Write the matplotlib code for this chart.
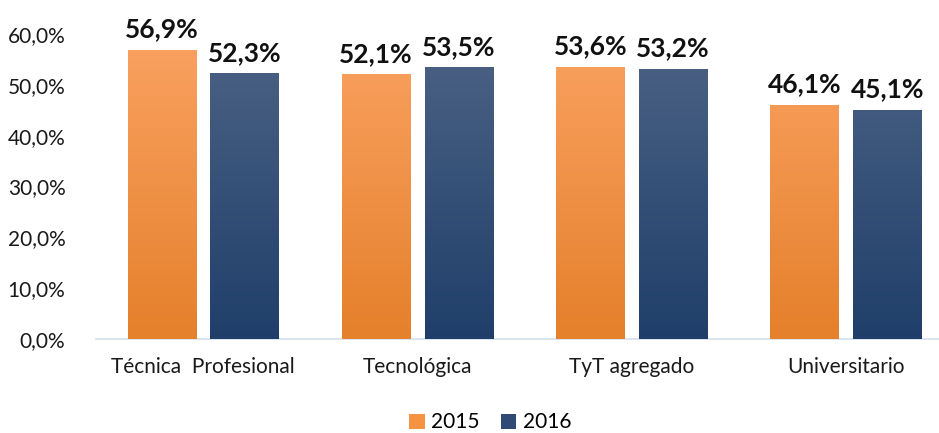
import numpy as np
import matplotlib.pyplot as plt
from matplotlib.colors import LinearSegmentedColormap

categories = ['Técnica  Profesional', 'Tecnológica', 'TyT agregado', 'Universitario']
values_2015 = [56.9, 52.1, 53.6, 46.1]
values_2016 = [52.3, 53.5, 53.2, 45.1]
series_names = ['2015', '2016']

plt.rcParams['font.family'] = ['Lato', 'DejaVu Sans']

fig = plt.figure(figsize=(9.39, 4.33), dpi=100)
ax = fig.add_axes([96 / 939, 94 / 433, 857 / 939, 305 / 433])

orange_cmap = LinearSegmentedColormap.from_list('o', ['#E5802B', '#FAA262'])
blue_cmap = LinearSegmentedColormap.from_list('b', ['#1F3F6A', '#4D6385'])

x = np.arange(len(categories))
width = 0.318
offset = 0.193


def gradient_bars(xpos, vals, cmap, label, solid):
    bars = ax.bar(xpos, vals, width, color=solid, label=label, zorder=2)
    grad = np.linspace(0, 1, 256).reshape(-1, 1)
    for b in bars:
        x0 = b.get_x()
        im = ax.imshow(grad, cmap=cmap, aspect='auto', origin='lower',
                       extent=[x0, x0 + b.get_width(), 0, 60], zorder=3)
        im.set_clip_path(b)
    for xi, v in zip(xpos, vals):
        ax.annotate(f'{v:.1f}%'.replace('.', ','), (xi, v), xytext=(0, 6),
                    textcoords='offset points', ha='center', va='bottom',
                    fontsize=19, fontweight='bold', color='#111111',
                    annotation_clip=False)
    return bars


gradient_bars(x - offset, values_2015, orange_cmap, series_names[0], '#F59342')
gradient_bars(x + offset, values_2016, blue_cmap, series_names[1], '#2F4B75')

ax.set_xlim(-0.5, 3.5)
ax.set_ylim(0, 60)
ax.set_yticks(np.arange(0, 61, 10))
ax.set_yticklabels([f'{t:.1f}%'.replace('.', ',') for t in np.arange(0, 61, 10)])
ax.set_xticks(x)
ax.set_xticklabels(categories)
ax.tick_params(axis='both', length=0, labelsize=15, colors='#1a1a1a')
ax.tick_params(axis='x', pad=13)
ax.tick_params(axis='y', pad=22)
for s in ['top', 'right', 'left']:
    ax.spines[s].set_visible(False)
ax.spines['bottom'].set_color('#D5DFEE')
ax.spines['bottom'].set_linewidth(1.2)

ax.legend(loc='upper center', bbox_to_anchor=(0.46, -0.2), ncol=2, frameon=False,
          fontsize=15, handlelength=0.75, handleheight=0.75, columnspacing=1.0,
          handletextpad=0.3, borderpad=0.1)

fig.savefig('out.png', dpi=100)
